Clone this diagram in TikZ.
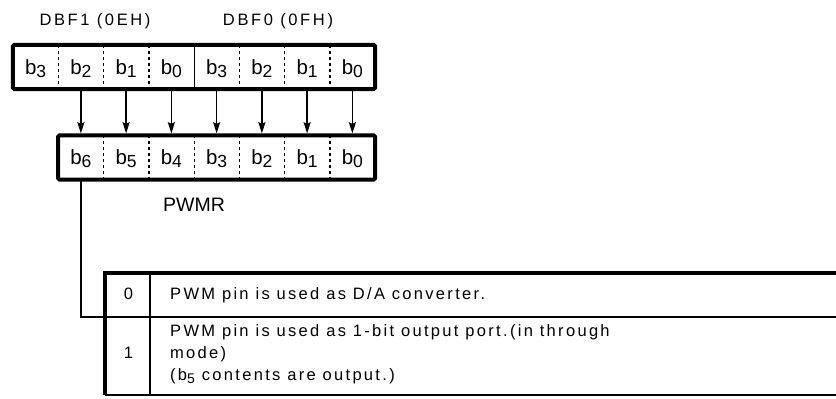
\documentclass[tikz,border=0pt]{standalone}
\usepackage{fontspec}
\setmainfont{Liberation Sans}
\newfontfamily\trackedfont[LetterSpace=14]{Liberation Sans}
\newfontfamily\widefont[LetterSpace=16]{Liberation Sans}
\usetikzlibrary{arrows.meta, positioning, calc}
\newcommand{\regbit}[1]{b\raisebox{-3.3pt}{\fontsize{17.5}{17.5}\selectfont #1}}
\newcommand{\txtbit}[1]{b\raisebox{-3pt}{\fontsize{14}{14}\selectfont #1}}
\tikzset{
  line/.style={draw=black, line width=1.3pt},
  arrow/.style={draw=black, line width=1.5pt, shorten >=2pt, -{Stealth[length=11pt, width=7pt, inset=1.5pt]}},
  regframe/.style={draw=black, line width=4pt, rounded corners=1.5pt},
  divider/.style={draw=black, line width=1.3pt, dash pattern=on 3pt off 3pt},
  cell/.style={minimum width=45.25pt, minimum height=44pt, inner sep=0pt, text height=15pt, text depth=1pt, font=\fontsize{20.5}{20.5}\selectfont},
  lbl/.style={font=\widefont\fontsize{16.5}{16.5}\selectfont, inner sep=0pt},
  txt/.style={font=\trackedfont\fontsize{16.5}{22}\selectfont, inner sep=0pt, align=left},
  tblthick/.style={draw=black, line width=3.2pt},
  tblthin/.style={draw=black, line width=1.7pt}
}

\begin{document}
\begin{tikzpicture}[x=1pt, y=-1pt]
  \useasboundingbox (0,0) rectangle (836,399);
  \clip (0,0) rectangle (836,399);

  % DBF1 / DBF0 data buffer
  \foreach \n/\b [count=\i] in {dbf1b3/3, dbf1b2/2, dbf1b1/1, dbf1b0/0, dbf0b3/3, dbf0b2/2, dbf0b1/1, dbf0b0/0}
    \node [cell] (\n) at (45.25*\i-9.625, 67) {\regbit{\b}};
  \draw [regframe] (dbf1b3.north west) rectangle (dbf0b0.south east);
  \foreach \a in {dbf1b3, dbf1b2, dbf1b1, dbf0b3, dbf0b2, dbf0b1}
    \draw [divider] (\a.north east) -- (\a.south east);
  \draw [line] (dbf1b0.north east) -- (dbf1b0.south east);
  \node [lbl] (dbf1lbl) at (95,21) {DBF1 (0EH)};
  \node [lbl] (dbf0lbl) at (278,21) {DBF0 (0FH)};

  % PWMR
  \foreach \n/\b [count=\i] in {pwmrb6/6, pwmrb5/5, pwmrb4/4, pwmrb3/3, pwmrb2/2, pwmrb1/1, pwmrb0/0}
    \node [cell] (\n) at (45.25*\i+35.625, 157.5) {\regbit{\b}};
  \draw [regframe] (pwmrb6.north west) rectangle (pwmrb0.south east);
  \foreach \a in {pwmrb6, pwmrb5, pwmrb4, pwmrb3, pwmrb2, pwmrb1}
    \draw [divider] (\a.north east) -- (\a.south east);
  \node [font=\fontsize{19.5}{19.5}\selectfont, inner sep=0pt] (pwmrlbl) at (194,205) {PWMR};

  \foreach \s/\d in {dbf1b2/pwmrb6, dbf1b1/pwmrb5, dbf1b0/pwmrb4, dbf0b3/pwmrb3, dbf0b2/pwmrb2, dbf0b1/pwmrb1, dbf0b0/pwmrb0}
    \draw [arrow] (\s.south) -- (\d.north);

  % b6 table
  \draw [tblthick] (900,273) -- (105,273) -- (105,395);
  \draw [tblthin] (150,273) -- (150,395);
  \draw [tblthin] (105,317) -- (900,317);
  \draw [line width=2pt] (105,395) -- (900,395);
  \coordinate (rowsep) at (105,317);
  \draw [line] (pwmrb6.south) |- (rowsep);

  \node [txt, anchor=base] (val0) at (128.5,299) {0};
  \node [txt, anchor=base west] (desc0) at (170,299) {PWM pin is used as D/A converter.};
  \node [txt, anchor=base] (val1) at (128.5,358) {1};
  \node [txt, anchor=base west] (desc1) at (170,380) {PWM pin is used as 1-bit output port.(in through\\mode)\\(\txtbit{5} contents are output.)};
\end{tikzpicture}
\end{document}
